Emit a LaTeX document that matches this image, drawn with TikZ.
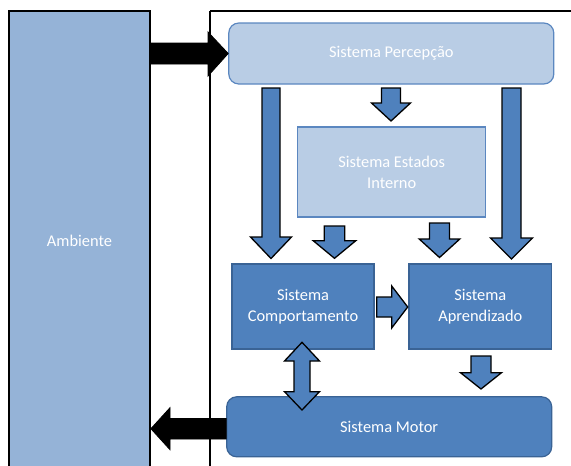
\documentclass[tikz,border=0pt]{standalone}
\usepackage{fontspec}
\setmainfont{Carlito}
\definecolor{ambfill}{HTML}{95B3D7}
\definecolor{lightfill}{HTML}{B9CDE5}
\definecolor{lightline}{HTML}{5B87C0}
\definecolor{darkfill}{HTML}{4F81BD}
\definecolor{darkline}{HTML}{3A6395}
% down block arrow: cx, ytop, ybase, ytip, shaft half, head half
\newcommand\blkdown[6]{%
  \draw[blkarrow] (#1-#5,#2) -- (#1+#5,#2) -- (#1+#5,#3) -- (#1+#6,#3) -- (#1,#4)
    -- (#1-#6,#3) -- (#1-#5,#3) -- cycle;}
\tikzset{
  lbl/.style={text=white, font=\fontsize{16.4}{21}\selectfont, align=center},
  lightbox/.style={lbl, draw=lightline, fill=lightfill, line width=1.2pt, inner sep=0pt},
  darkbox/.style={lbl, draw=darkline, fill=darkfill, line width=1.2pt, inner sep=0pt},
  blkarrow/.style={draw=black, fill=darkfill, line width=1.3pt, line join=miter},
  blackarrow/.style={draw=black, fill=black, line width=0.8pt},
}
\begin{document}
\begin{tikzpicture}[x=1pt,y=-1pt]
\useasboundingbox (0,0) rectangle (571,466);
\clip (0,0) rectangle (571,466);
% container
\draw[line width=1.6pt] (210,11) coordinate (c1) -- (580,11);
\draw[line width=1.6pt] (210,11) -- (210,480);
% Ambiente
\node[lbl, draw=black, fill=ambfill, line width=1.8pt, minimum width=141pt, minimum height=460pt, inner sep=0pt] (amb) at (79.5,241) {Ambiente};
% boxes
\node[lightbox, rounded corners=10pt, minimum width=325pt, minimum height=61pt] (perc) at (391.3,53.5) {Sistema Percepção};
\node[lightbox, minimum width=188pt, minimum height=90pt] (est) at (391.7,172) {Sistema Estados\\Interno};
\node[darkbox, minimum width=142pt, minimum height=85pt] (comp) at (303,306.5) {Sistema\\Comportamento};
\node[darkbox, minimum width=142.7pt, minimum height=85pt] (apr) at (480.3,306.5) {Sistema\\Aprendizado};
\node[darkbox, rounded corners=10pt, minimum width=325pt, minimum height=60pt] (mot) at (389.2,426.8) {Sistema Motor};
% black arrows
\draw[blackarrow] (amb.east |- 0,43) -- (208,43) -- (208,32) -- (perc.west) -- (208,76) -- (208,64) -- (amb.east |- 0,64) -- cycle;
\draw[blackarrow] (mot.west |- 0,418.4) -- (170,418.4) -- (170,407.7) -- (amb.east |- 0,428.7) -- (170,449.7) -- (170,439) -- (mot.west |- 0,439) -- cycle;
% blue block arrows
\blkdown{271}{88}{237}{258.5}{9}{20.5}
\blkdown{391}{88}{103}{121}{9.5}{19.5}
\blkdown{511.5}{88}{238}{259}{9.5}{21}
\blkdown{334.5}{226}{240.7}{258.3}{10.3}{21.3}
\blkdown{439.5}{223}{239}{257.5}{10}{20.3}
\blkdown{481}{356}{372.7}{389}{10}{20.5}
% right arrow comp -> apr
\draw[blkarrow] (376.7,297) -- (391.7,297) -- (391.7,286) -- (407.7,307) -- (391.7,328) -- (391.7,317) -- (376.7,317) -- cycle;
% double arrow comp <-> motor
\draw[blkarrow] (302,342.3) -- (319.5,361) -- (310,361) -- (310,391.7) -- (319.5,391.7) -- (302,410)
  -- (284.5,391.7) -- (294,391.7) -- (294,361) -- (284.5,361) -- cycle;
\end{tikzpicture}
\end{document}
